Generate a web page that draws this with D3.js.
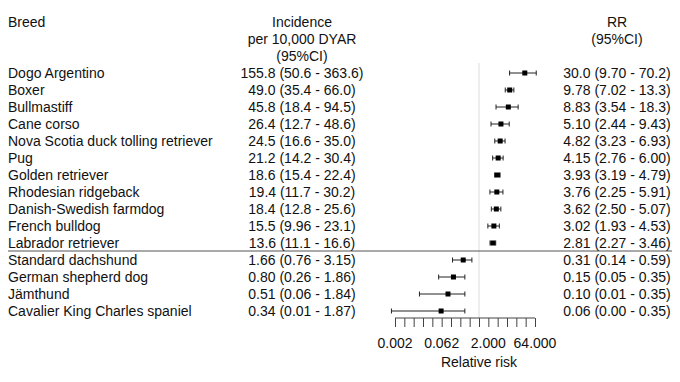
<!DOCTYPE html>
<html>
<head>
<meta charset="utf-8">
<script src="https://cdn.jsdelivr.net/npm/d3@7"></script>
<style>
  body { margin: 0; background: #fff; }
  svg text { font-family: "Liberation Sans", Arial, sans-serif; font-size: 14px; fill: #111; }
</style>
</head>
<body>
<svg id="chart"></svg>
<script>
const breeds = [
    'Dogo Argentino', 'Boxer', 'Bullmastiff', 'Cane corso',
    'Nova Scotia duck tolling retriever', 'Pug', 'Golden retriever',
    'Rhodesian ridgeback', 'Danish-Swedish farmdog', 'French bulldog',
    'Labrador retriever', 'Standard dachshund', 'German shepherd dog',
    'Jämthund', 'Cavalier King Charles spaniel'
];

// incidence per 10,000 DYAR
const incidence = [155.8, 49.0, 45.8, 26.4, 24.5, 21.2, 18.6, 19.4, 18.4, 15.5, 13.6, 1.66, 0.80, 0.51, 0.34];
const incLow = [50.6, 35.4, 18.4, 12.7, 16.6, 14.2, 15.4, 11.7, 12.8, 9.96, 11.1, 0.76, 0.26, 0.06, 0.01];
const incHigh = [363.6, 66.0, 94.5, 48.6, 35.0, 30.4, 22.4, 30.2, 25.6, 23.1, 16.6, 3.15, 1.86, 1.84, 1.87];

// relative risk
const rr = [30.0, 9.78, 8.83, 5.10, 4.82, 4.15, 3.93, 3.76, 3.62, 3.02, 2.81, 0.31, 0.15, 0.10, 0.06];
const rrLow = [9.70, 7.02, 3.54, 2.44, 3.23, 2.76, 3.19, 2.25, 2.50, 1.93, 2.27, 0.14, 0.05, 0.012, 0.0015];
const rrHigh = [70.2, 13.3, 18.3, 9.43, 6.93, 6.00, 4.79, 5.91, 5.07, 4.53, 3.46, 0.59, 0.35, 0.35, 0.35];

const tickValues = d3.range(-9, 7).map(p => Math.pow(2, p));
const tickLabels = [0.002, 0.062, 2.000, 64.000];

const width = 680, height = 382;
const svg = d3.select('#chart').attr('width', width).attr('height', height);

const rows = breeds.map((b, i) => ({
    breed: b, inc: incidence[i], incLo: incLow[i], incHi: incHigh[i],
    rr: rr[i], lo: rrLow[i], hi: rrHigh[i]
}));

const y = d3.scalePoint().domain(breeds).range([73, 311]);
const x = d3.scaleLog().base(2).domain([Math.pow(2, -9), Math.pow(2, 6)]).range([395, 535]);

const fmtInc = v => v >= 10 ? v.toFixed(1) : v.toFixed(2);
const fmtRR = v => v >= 1 ? d3.format('.3r')(v) : v.toFixed(2);

const incX = 302, rrX = 617;

// headers
const head = svg.append('g');
head.append('text').attr('x', 8).attr('y', 27).text('Breed');
[['Incidence', 27], ['per 10,000 DYAR', 44], ['(95%CI)', 61]].forEach(([t, yy]) =>
    head.append('text').attr('x', incX).attr('y', yy).attr('text-anchor', 'middle').text(t));
[['RR', 27], ['(95%CI)', 44]].forEach(([t, yy]) =>
    head.append('text').attr('x', rrX).attr('y', yy).attr('text-anchor', 'middle').text(t));

// reference line at RR = 1
svg.append('line')
    .attr('x1', x(1)).attr('x2', x(1))
    .attr('y1', 63).attr('y2', 318)
    .attr('stroke', '#dcdcdc').attr('stroke-width', 1);

// separator between high and low risk breeds
const sepY = (y('Labrador retriever') + y('Standard dachshund')) / 2 - 0.5;
svg.append('line')
    .attr('x1', 8).attr('x2', 672)
    .attr('y1', sepY).attr('y2', sepY)
    .attr('stroke', '#555').attr('stroke-width', 1);

const row = svg.selectAll('.row')
    .data(rows)
    .enter()
    .append('g')
    .attr('class', 'row')
    .attr('transform', d => `translate(0, ${y(d.breed)})`);

row.append('text').attr('x', 8).attr('dy', '0.36em').text(d => d.breed);
row.append('text').attr('x', incX).attr('dy', '0.36em').attr('text-anchor', 'middle')
    .text(d => `${fmtInc(d.inc)} (${fmtInc(d.incLo)} - ${fmtInc(d.incHi)})`);
row.append('text').attr('x', rrX).attr('dy', '0.36em').attr('text-anchor', 'middle')
    .text(d => `${fmtRR(d.rr)} (${fmtRR(d.lo)} - ${fmtRR(d.hi)})`);

// confidence intervals
row.append('line')
    .attr('x1', d => x(d.lo)).attr('x2', d => x(d.hi))
    .attr('stroke', '#222').attr('stroke-width', 1);
row.selectAll('.cap')
    .data(d => [d.lo, d.hi])
    .enter()
    .append('line')
    .attr('x1', v => x(v)).attr('x2', v => x(v))
    .attr('y1', -2.5).attr('y2', 2.5)
    .attr('stroke', '#222').attr('stroke-width', 1);
row.append('rect')
    .attr('x', d => x(d.rr) - 2.5).attr('y', -2.5)
    .attr('width', 5).attr('height', 5)
    .attr('fill', '#000');

// axis
const axis = d3.axisBottom(x)
    .tickValues(tickValues)
    .tickSize(9)
    .tickFormat('');
const ax = svg.append('g').attr('transform', 'translate(0, 318)').call(axis);
ax.select('.domain').attr('stroke', '#444').attr('d', `M${x.range()[0]},0H${x.range()[1]}`);
ax.selectAll('.tick line').attr('stroke', '#444');

svg.selectAll('.tlabel')
    .data(tickLabels)
    .enter()
    .append('text')
    .attr('x', d => x(d === 0.002 ? Math.pow(2, -9) : d === 0.062 ? Math.pow(2, -4) : d))
    .attr('y', 348)
    .attr('text-anchor', 'middle')
    .text(d => d.toFixed(3));

svg.append('text')
    .attr('x', x(1)).attr('y', 367)
    .attr('text-anchor', 'middle')
    .text('Relative risk');
</script>
</body>
</html>
